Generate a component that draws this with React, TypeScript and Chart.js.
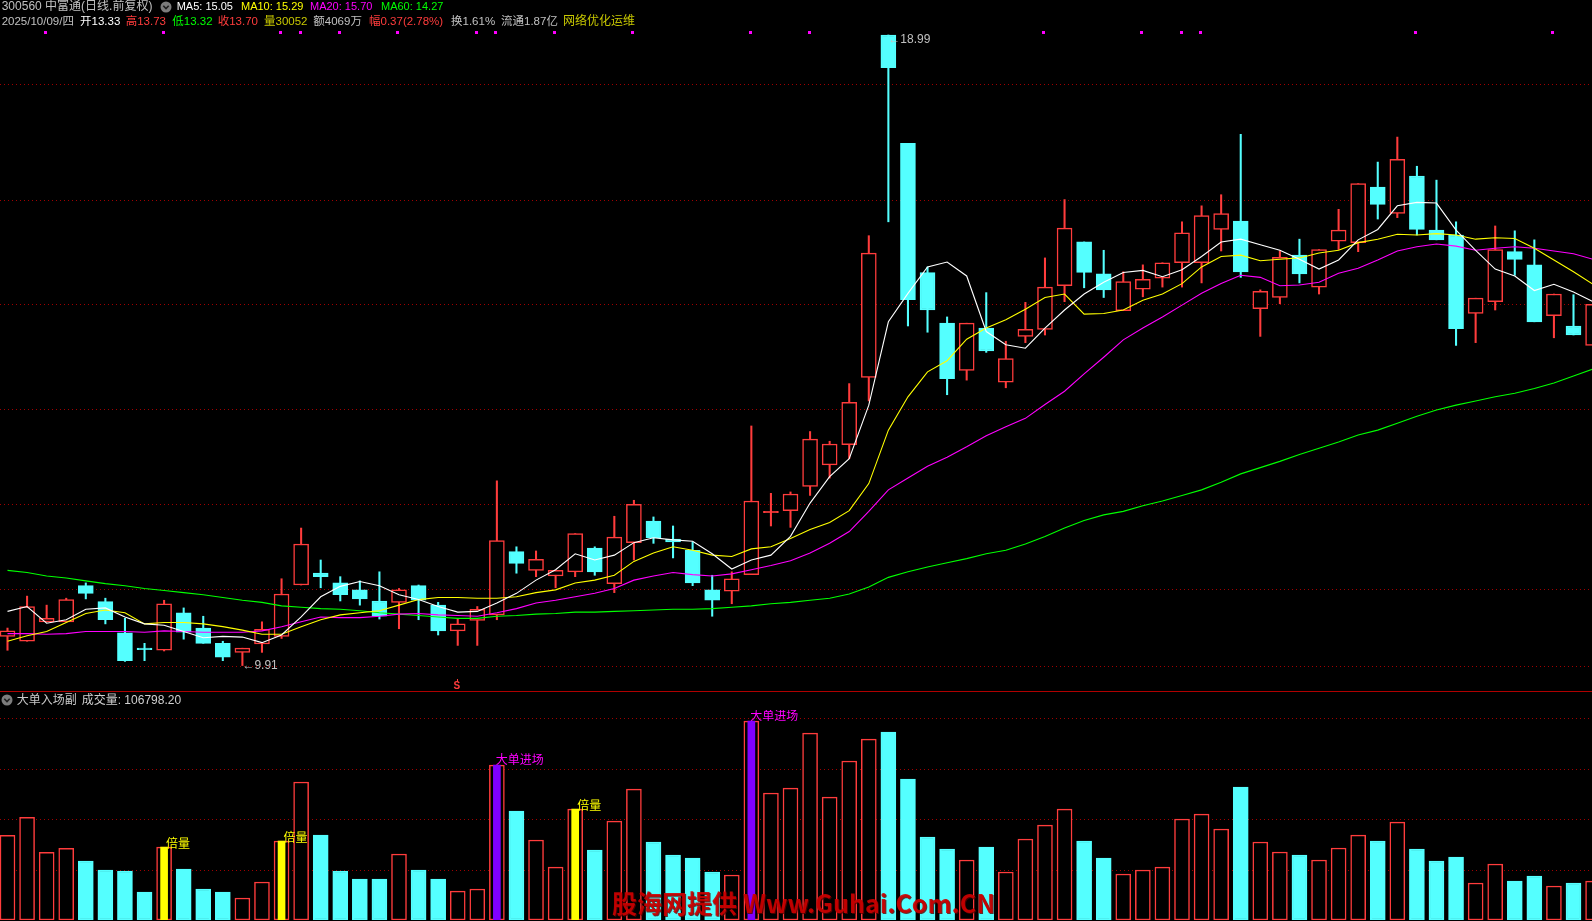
import React, { useEffect, useRef } from "react";
import { Chart, registerables } from "chart.js";

Chart.register(...registerables);

// ---------- data ----------
const opens = [10.33, 10.26, 10.54, 10.54, 11.06, 10.83, 10.38, 10.15, 10.13, 10.67,
  10.45, 10.23, 10.10, 10.22, 10.33, 11.07, 11.24, 11.10, 11.00, 10.84,
  10.82, 11.06, 10.78, 10.41, 10.56, 10.64, 11.55, 11.28, 11.20, 11.26,
  11.60, 11.09, 11.68, 11.99, 11.73, 11.57, 11.00, 10.98, 11.22, 12.11,
  12.14, 12.49, 12.80, 13.09, 14.06, 18.99, 17.43, 15.57, 14.84, 14.16,
  14.77, 13.99, 14.65, 14.75, 15.38, 16.01, 15.55, 15.02, 15.33, 15.49,
  15.71, 15.71, 16.19, 16.31, 15.05, 15.21, 15.82, 15.36, 16.02, 16.00,
  16.80, 16.42, 16.96, 16.18, 16.11, 14.98, 15.15, 15.87, 15.68, 14.95,
  14.80, 14.52];
const highs = [10.45, 10.91, 10.78, 10.88, 11.10, 10.88, 10.59, 10.23, 10.85, 10.74,
  10.62, 10.26, 10.16, 10.54, 11.16, 11.89, 11.43, 11.19, 11.13, 11.26,
  11.02, 11.07, 10.82, 10.58, 10.76, 12.57, 11.62, 11.56, 11.28, 11.81,
  11.62, 12.06, 12.29, 12.05, 11.92, 11.69, 11.21, 11.26, 13.36, 12.39,
  12.41, 13.28, 13.14, 13.97, 16.10, 18.99, 17.43, 15.65, 14.93, 14.84,
  15.28, 14.58, 15.14, 15.78, 16.62, 16.01, 15.89, 15.58, 15.68, 15.71,
  16.30, 16.53, 16.69, 17.56, 15.32, 15.88, 16.05, 15.90, 16.48, 16.85,
  17.16, 17.52, 17.10, 16.90, 16.30, 15.20, 16.24, 16.17, 16.04, 15.26,
  15.25, 15.11];
const lows = [10.13, 10.26, 10.54, 10.54, 10.87, 10.51, 9.97, 9.98, 10.12, 10.29,
  10.23, 9.98, 9.91, 10.10, 10.30, 11.07, 11.03, 10.84, 10.78, 10.58,
  10.44, 10.57, 10.35, 10.20, 10.20, 10.57, 11.24, 11.19, 11.03, 11.19,
  11.21, 10.96, 11.43, 11.67, 11.46, 11.06, 10.62, 10.80, 11.22, 11.92,
  11.90, 12.36, 12.61, 12.89, 13.72, 16.30, 14.80, 14.71, 13.81, 14.02,
  14.42, 13.91, 14.56, 14.67, 15.15, 15.35, 15.21, 15.02, 15.22, 15.36,
  15.36, 15.42, 15.88, 15.50, 14.65, 15.12, 15.42, 15.26, 15.90, 15.87,
  16.34, 16.36, 16.11, 16.04, 14.52, 14.56, 15.03, 15.53, 14.86, 14.63,
  14.67, 14.52];
const closes = [10.41, 10.76, 10.59, 10.86, 10.95, 10.57, 9.98, 10.14, 10.80, 10.39,
  10.23, 10.03, 10.16, 10.43, 10.94, 11.66, 11.19, 10.93, 10.87, 10.62,
  11.00, 10.85, 10.41, 10.51, 10.72, 11.71, 11.38, 11.44, 11.28, 11.81,
  11.26, 11.76, 12.23, 11.75, 11.69, 11.10, 10.85, 11.16, 12.28, 12.12,
  12.38, 13.17, 13.10, 13.70, 15.85, 18.52, 15.18, 15.03, 14.04, 14.84,
  14.44, 14.33, 14.75, 15.36, 16.21, 15.57, 15.32, 15.44, 15.47, 15.71,
  16.14, 16.39, 16.42, 15.58, 15.30, 15.79, 15.55, 15.90, 16.18, 16.85,
  16.55, 17.20, 16.19, 16.04, 14.76, 15.20, 15.90, 15.76, 14.86, 15.26,
  14.67, 15.11];

const ma5 = [10.69, 10.76, 10.52, 10.57, 10.72, 10.74, 10.61, 10.51, 10.49, 10.40,
  10.31, 10.33, 10.32, 10.24, 10.35, 10.61, 10.90, 11.05, 11.12, 11.06,
  10.93, 10.86, 10.76, 10.68, 10.69, 10.81, 10.95, 11.14, 11.29, 11.52,
  11.43, 11.50, 11.68, 11.75, 11.72, 11.70, 11.52, 11.30, 11.43, 11.50,
  11.77, 12.25, 12.63, 12.89, 13.66, 14.86, 15.27, 15.65, 15.72, 15.52,
  14.72, 14.53, 14.48, 14.77, 15.03, 15.26, 15.43, 15.57, 15.60, 15.51,
  15.61, 15.80, 16.01, 16.05, 15.97, 15.89, 15.76, 15.62, 15.75, 16.04,
  16.19, 16.53, 16.58, 16.57, 16.18, 15.89, 15.62, 15.52, 15.31, 15.40,
  15.29, 15.15];
const ma10 = [10.26, 10.34, 10.40, 10.53, 10.66, 10.71, 10.67, 10.51, 10.53, 10.53,
  10.51, 10.47, 10.42, 10.36, 10.36, 10.47, 10.57, 10.64, 10.67, 10.70,
  10.78, 10.86, 10.89, 10.89, 10.88, 10.88, 10.90, 10.96, 11.00, 11.10,
  11.14, 11.21, 11.41, 11.53, 11.62, 11.57, 11.50, 11.48, 11.59, 11.62,
  11.74, 11.87, 11.97, 12.14, 12.53, 13.30, 13.78, 14.14, 14.30, 14.61,
  14.77, 14.89, 15.04, 15.21, 15.26, 14.97, 14.98, 15.03, 15.17, 15.26,
  15.41, 15.65, 15.80, 15.82, 15.74, 15.76, 15.78, 15.85, 15.89, 16.00,
  16.05, 16.12, 16.11, 16.13, 16.11, 16.05, 16.07, 16.06, 15.92, 15.75,
  15.58, 15.40];
const ma20 = [10.37, 10.37, 10.36, 10.37, 10.40, 10.40, 10.40, 10.39, 10.41, 10.40,
  10.39, 10.39, 10.39, 10.41, 10.47, 10.54, 10.61, 10.60, 10.60, 10.62,
  10.65, 10.66, 10.64, 10.63, 10.62, 10.67, 10.73, 10.81, 10.85, 10.90,
  10.95, 11.02, 11.14, 11.20, 11.25, 11.22, 11.20, 11.23, 11.29, 11.35,
  11.42, 11.53, 11.67, 11.84, 12.13, 12.44, 12.61, 12.78, 12.91, 13.06,
  13.22, 13.35, 13.47, 13.67, 13.86, 14.11, 14.35, 14.60, 14.77, 14.93,
  15.10, 15.27, 15.41, 15.53, 15.50, 15.38, 15.39, 15.43, 15.56, 15.63,
  15.75, 15.88, 15.94, 15.98, 15.95, 15.89, 15.92, 15.94, 15.92, 15.88,
  15.84, 15.76];
const ma60 = [11.28, 11.25, 11.20, 11.17, 11.13, 11.09, 11.06, 11.02, 10.99, 10.96,
  10.93, 10.89, 10.85, 10.82, 10.77, 10.75, 10.73, 10.72, 10.70, 10.67,
  10.65, 10.63, 10.61, 10.59, 10.59, 10.62, 10.63, 10.65, 10.66, 10.68,
  10.68, 10.69, 10.70, 10.71, 10.72, 10.72, 10.73, 10.75, 10.77, 10.80,
  10.82, 10.85, 10.88, 10.94, 11.04, 11.18, 11.26, 11.33, 11.39, 11.45,
  11.52, 11.57, 11.66, 11.77, 11.89, 12.00, 12.08, 12.13, 12.21, 12.28,
  12.36, 12.44, 12.55, 12.67, 12.76, 12.85, 12.95, 13.04, 13.13, 13.23,
  13.30, 13.40, 13.50, 13.59, 13.66, 13.72, 13.78, 13.83, 13.90, 13.98,
  14.08, 14.18];

const volumes = [83900, 101800, 67100, 71100, 58500, 49600, 48600, 27700, 72300, 50500,
  30700, 27700, 21800, 37700, 78300, 136800, 84200, 48600, 40600, 40600,
  65400, 49600, 40600, 28700, 30700, 153600, 108000, 79300, 52500, 110000,
  69400, 98100, 129800, 77300, 64400, 61400, 47600, 44600, 197200, 125900,
  130800, 185300, 121900, 157600, 179400, 186300, 139700, 82300, 70400, 59500,
  72300, 47600, 80300, 94100, 110000, 78300, 61400, 45600, 49600, 52500,
  100100, 105000, 90200, 131800, 77300, 67400, 64400, 59500, 71400, 84200,
  78300, 97100, 70400, 58500, 62400, 36700, 55500, 38600, 43600, 33700,
  36700, 38600];

const gridPrices = [18.29, 16.62, 15.11, 13.60, 12.23, 11.01, 9.90];
const volGrid = [50000, 100000, 150000, 200000];
const signalDots = [2, 8, 14, 15, 17, 20, 24, 25, 28, 32, 38, 41, 53, 58, 60, 61, 72, 79];
const doubleVolDays = [8, 14, 29];
const bigOrderDays = [25, 38];
const sellSignalDay = 23;
const doubleVolLabel = "倍量";
const bigOrderLabel = "大单进场";

const priceMin = 9.702;
const priceMax = 19.494;
const volMax = 208200;
const xMin = -0.383;
const xMax = 80.945;

// ---------- style ----------
const W = 1592;
const MAIN_H = 690;
const VOL_TOP = 690;
const VOL_H = 231;
const RED = "#ff3c3c";
const CYAN = "#54ffff";
const BG = "#000000";
const GRID = "#a00000";
const SEP = "#b00000";

function argMax(a: number[]) { let k = 0; a.forEach((v, i) => { if (v > a[k]) k = i; }); return k; }
function argMin(a: number[]) { let k = 0; a.forEach((v, i) => { if (v < a[k]) k = i; }); return k; }

export default function App() {
  const mainRef = useRef<HTMLCanvasElement>(null);
  const volRef = useRef<HTMLCanvasElement>(null);

  useEffect(() => {
    const n = opens.length;
    const idx = Array.from({ length: n }, (_, i) => i);
    const up = idx.map((i) => closes[i] >= opens[i]);
    const col = idx.map((i) => (up[i] ? RED : CYAN));
    const bodyFill = idx.map((i) => (up[i] ? (Math.abs(closes[i] - opens[i]) < 0.02 ? RED : BG) : CYAN));

    const line = (label: string, data: number[], color: string) => ({
      type: "line" as const,
      label,
      data: data.map((v, i) => ({ x: i, y: v })),
      borderColor: color,
      borderWidth: 1.1,
      pointRadius: 0,
      tension: 0,
      order: 0,
    });

    const mainDecor = {
      id: "mainDecor",
      beforeDatasetsDraw(chart: any) {
        const { ctx, chartArea, scales } = chart;
        ctx.save();
        ctx.strokeStyle = GRID;
        ctx.lineWidth = 1;
        ctx.setLineDash([1, 3]);
        gridPrices.forEach((p) => {
          const py = Math.round(scales.y.getPixelForValue(p)) + 0.5;
          ctx.beginPath();
          ctx.moveTo(chartArea.left, py);
          ctx.lineTo(chartArea.right, py);
          ctx.stroke();
        });
        ctx.restore();
      },
      afterDatasetsDraw(chart: any) {
        const { ctx, chartArea, scales } = chart;
        const x = scales.x, y = scales.y;
        ctx.save();
        ctx.fillStyle = "#ff00ff";
        signalDots.forEach((i) => {
          const px = x.getPixelForValue(i);
          ctx.fillRect(Math.floor(px) - 2, chartArea.top + 31, 3, 3);
        });
        ctx.font = '12px "Liberation Sans", "DejaVu Sans", sans-serif';
        ctx.fillStyle = "#c0c0c0";
        ctx.textBaseline = "middle";
        ctx.textAlign = "left";
        const iMax = argMax(highs);
        const iMin = argMin(lows);
        ctx.fillText("←" + highs[iMax].toFixed(2), x.getPixelForValue(iMax), y.getPixelForValue(highs[iMax]) + 4.5);
        ctx.fillText("←" + lows[iMin].toFixed(2), x.getPixelForValue(iMin), y.getPixelForValue(lows[iMin]));
        const sx = x.getPixelForValue(sellSignalDay);
        ctx.strokeStyle = RED;
        ctx.lineWidth = 1;
        ctx.beginPath();
        ctx.moveTo(Math.round(sx) - 0.5, chartArea.bottom - 1);
        ctx.lineTo(Math.round(sx) - 0.5, chartArea.bottom + 2);
        ctx.stroke();
        ctx.font = 'bold 10px "Liberation Sans", sans-serif';
        ctx.fillStyle = RED;
        ctx.textAlign = "center";
        ctx.fillText("S", sx - 1, chartArea.bottom + 6);
        ctx.restore();
      },
    };

    const mainChart = new Chart(mainRef.current as HTMLCanvasElement, {
      type: "bar",
      data: {
        datasets: [
          line("MA5", ma5, "#ffffff"),
          line("MA10", ma10, "#ffff00"),
          line("MA20", ma20, "#ff00ff"),
          line("MA60", ma60, "#00ff00"),
          {
            type: "bar",
            label: "body",
            data: idx.map((i) => ({ x: i, y: [opens[i], closes[i]] })),
            backgroundColor: bodyFill,
            borderColor: col,
            borderWidth: 1.5,
            borderSkipped: false,
            barThickness: 15,
            maxBarThickness: 15,
            minBarLength: 1.5,
            grouped: false,
            order: 5,
          },
          {
            type: "bar",
            label: "wick",
            data: idx.map((i) => ({ x: i, y: [lows[i], highs[i]] })),
            backgroundColor: col,
            borderWidth: 0,
            barThickness: 1.4,
            maxBarThickness: 1.4,
            grouped: false,
            order: 6,
          },
        ] as any,
      },
      options: {
        animation: false,
        responsive: false,
        maintainAspectRatio: false,
        layout: { padding: { top: 0, bottom: 10, left: 0, right: 0 } },
        plugins: { legend: { display: false }, tooltip: { enabled: false } },
        scales: {
          x: { type: "linear", min: xMin, max: xMax, offset: false, display: false },
          y: { type: "linear", min: priceMin, max: priceMax, display: false },
        },
      } as any,
      plugins: [mainDecor],
    });

    const specialDays = [...doubleVolDays, ...bigOrderDays].sort((a, b) => a - b);
    const specialColor = specialDays.map((i) => (doubleVolDays.includes(i) ? "#ffff00" : "#8000ff"));

    const volDecor = {
      id: "volDecor",
      beforeDatasetsDraw(chart: any) {
        const { ctx, chartArea, scales } = chart;
        ctx.save();
        ctx.strokeStyle = GRID;
        ctx.lineWidth = 1;
        ctx.setLineDash([1, 3]);
        volGrid.forEach((v) => {
          const py = Math.round(scales.y.getPixelForValue(v)) + 0.5;
          ctx.beginPath();
          ctx.moveTo(chartArea.left, py);
          ctx.lineTo(chartArea.right, py);
          ctx.stroke();
        });
        ctx.setLineDash([]);
        ctx.strokeStyle = SEP;
        ctx.beginPath();
        ctx.moveTo(0, 1.5);
        ctx.lineTo(W, 1.5);
        ctx.stroke();
        ctx.restore();
      },
      afterDatasetsDraw(chart: any) {
        const { ctx, chartArea, scales } = chart;
        const x = scales.x, y = scales.y;
        ctx.save();
        ctx.beginPath();
        ctx.rect(chartArea.left, chartArea.top, chartArea.right - chartArea.left, chartArea.bottom - chartArea.top);
        ctx.clip();
        ctx.font = '12px "Noto Sans CJK SC", sans-serif';
        ctx.textBaseline = "alphabetic";
        ctx.textAlign = "left";
        doubleVolDays.forEach((i) => {
          ctx.fillStyle = "#ffff00";
          ctx.fillText(doubleVolLabel, x.getPixelForValue(i) + 2, y.getPixelForValue(volumes[i]) + 1);
        });
        bigOrderDays.forEach((i) => {
          ctx.fillStyle = "#ff00ff";
          ctx.fillText(bigOrderLabel, x.getPixelForValue(i) - 1, y.getPixelForValue(volumes[i]) - 1);
        });
        ctx.restore();
        // watermark
        ctx.save();
        ctx.font = 'bold 25px "Noto Sans CJK SC", "Noto Sans", sans-serif';
        ctx.textBaseline = "alphabetic";
        ctx.textAlign = "left";
        const by = 913 - VOL_TOP;
        ctx.fillStyle = "rgba(90,0,0,0.8)";
        ctx.fillText("股海网提供", 613, by + 1);
        ctx.fillText("Www.Guhai.Com.CN", 744, by + 1);
        ctx.fillStyle = "rgba(205,0,0,0.9)";
        ctx.fillText("股海网提供", 612, by);
        ctx.fillText("Www.Guhai.Com.CN", 743, by);
        ctx.restore();
      },
    };

    const volChart = new Chart(volRef.current as HTMLCanvasElement, {
      type: "bar",
      data: {
        datasets: [
          {
            type: "bar",
            label: "special",
            data: specialDays.map((i) => ({ x: i, y: volumes[i] })),
            backgroundColor: specialColor,
            borderWidth: 0,
            barThickness: 7,
            maxBarThickness: 7,
            grouped: false,
            order: 0,
          },
          {
            type: "bar",
            label: "volume",
            data: idx.map((i) => ({ x: i, y: volumes[i] })),
            backgroundColor: idx.map((i) => (up[i] ? BG : CYAN)),
            borderColor: col,
            borderWidth: 1.5,
            borderSkipped: false,
            barThickness: 15,
            maxBarThickness: 15,
            grouped: false,
            order: 1,
          },
        ] as any,
      },
      options: {
        animation: false,
        responsive: false,
        maintainAspectRatio: false,
        layout: { padding: { top: 20, bottom: 1, left: 0, right: 0 } },
        plugins: { legend: { display: false }, tooltip: { enabled: false } },
        scales: {
          x: { type: "linear", min: xMin, max: xMax, offset: false, display: false },
          y: { type: "linear", min: 0, max: volMax, display: false },
        },
      } as any,
      plugins: [volDecor],
    });

    return () => {
      mainChart.destroy();
      volChart.destroy();
    };
  }, []);

  const font = '"Liberation Sans", "Noto Sans CJK SC", sans-serif';
  const seg = (left: number, top: number, text: string, color: string, size = 11.5) => (
    <span
      key={text + left + top}
      style={{
        position: "absolute",
        left,
        top,
        color,
        fontFamily: font,
        fontSize: size,
        lineHeight: "13px",
        whiteSpace: "nowrap",
      }}
    >
      {text}
    </span>
  );
  const icon = (left: number, top: number) => (
    <svg style={{ position: "absolute", left, top }} width={12} height={12}>
      <circle cx={6} cy={6} r={5.5} fill="#7c7c7c" />
      <polyline points="3.3,4.8 6,7.5 8.7,4.8" stroke="#1e1e1e" strokeWidth={1.6} fill="none" />
    </svg>
  );

  return (
    <div style={{ position: "fixed", left: 0, top: 0, width: W, height: 921, background: BG, overflow: "hidden" }}>
      <canvas ref={mainRef} width={W} height={MAIN_H} style={{ position: "absolute", left: 0, top: 0, width: W, height: MAIN_H }} />
      <canvas ref={volRef} width={W} height={VOL_H} style={{ position: "absolute", left: 0, top: VOL_TOP, width: W, height: VOL_H }} />
      {seg(1.7, 0, "300560 中富通(日线.前复权)", "#c0c0c0", 12)}
      {icon(160, 0.5)}
      {seg(176.7, 0, "MA5: 15.05", "#ffffff", 11)}
      {seg(241, 0, "MA10: 15.29", "#ffff00", 11)}
      {seg(310, 0, "MA20: 15.70", "#ff00ff", 11)}
      {seg(381, 0, "MA60: 14.27", "#00ff00", 11)}
      {seg(1.7, 14.5, "2025/10/09/四", "#c0c0c0")}
      {seg(80, 14.5, "开13.33", "#ffffff")}
      {seg(125.7, 14.5, "高13.73", RED)}
      {seg(172.3, 14.5, "低13.32", "#00ff00")}
      {seg(217.7, 14.5, "收13.70", RED)}
      {seg(264, 14.5, "量30052", "#c8c800")}
      {seg(313.3, 14.5, "额4069万", "#c0c0c0")}
      {seg(369, 14.5, "幅0.37(2.78%)", RED)}
      {seg(451, 14.5, "换1.61%", "#c0c0c0")}
      {seg(501, 14.5, "流通1.87亿", "#c0c0c0")}
      {seg(563, 14.5, "网络优化运维", "#c8c800", 12)}
      {icon(1, 694)}
      {seg(16.7, 693.5, "大单入场副", "#c8c8c8", 12)}
      {seg(81.7, 693.5, "成交量: 106798.20", "#d0d0d0", 12)}
    </div>
  );
}
